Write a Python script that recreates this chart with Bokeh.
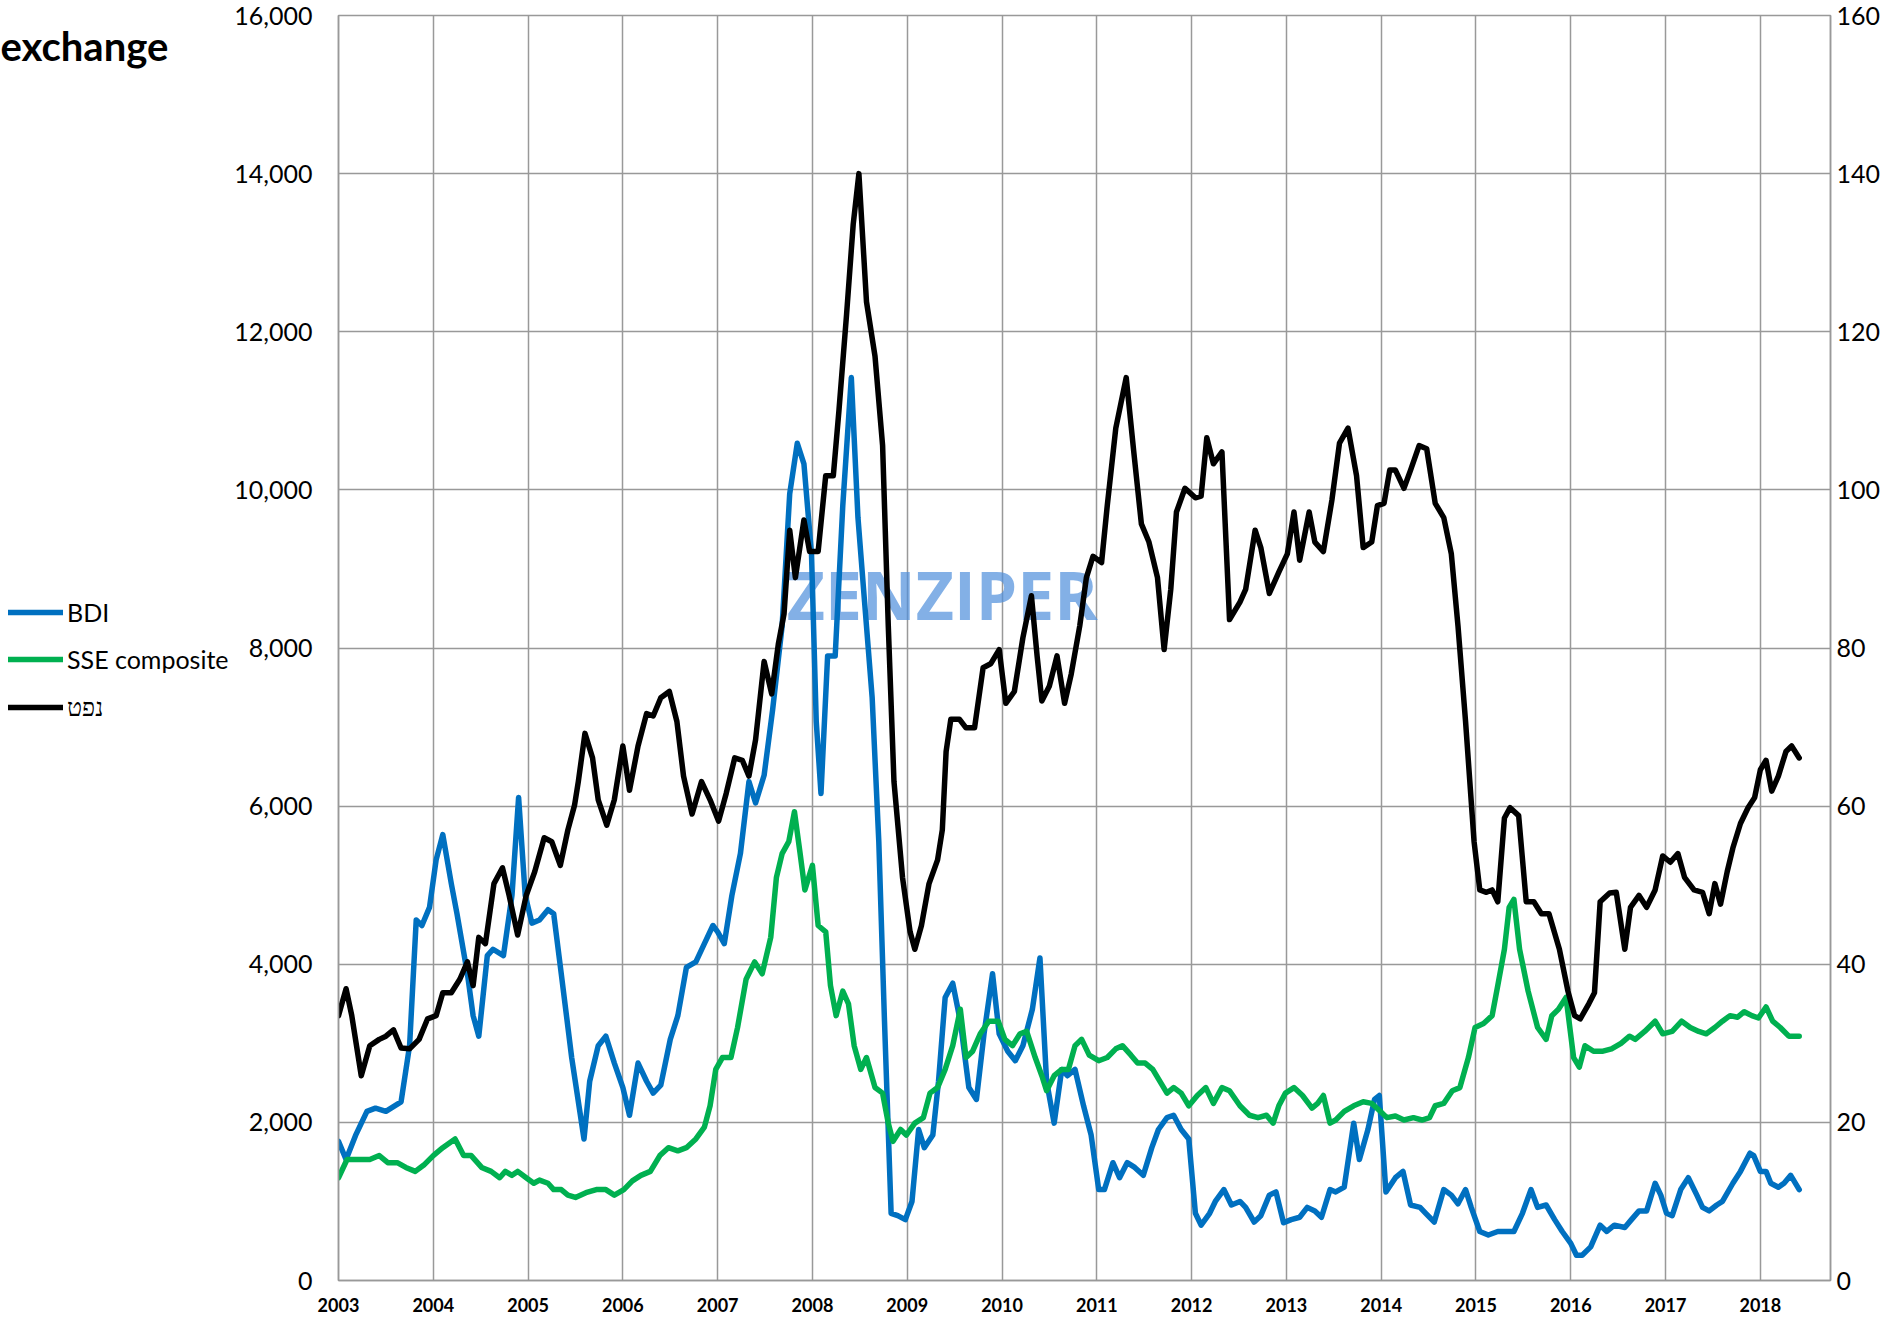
from bokeh.plotting import figure
from bokeh.layouts import row
from bokeh.models import (Range1d, LinearAxis, Legend, LegendItem, Label,
                          NumeralTickFormatter, FixedTicker)
from bokeh.embed import file_html
from bokeh.resources import INLINE

# ---- data (decimal year, value) ----
bdi = [(2003.00,1760),(2003.08,1530),(2003.18,1835),(2003.30,2140),(2003.39,2180),(2003.50,2140),(2003.66,2260),(2003.75,2970),(2003.82,4560),(2003.88,4490),(2003.96,4720),
       (2004.03,5320),(2004.10,5640),(2004.19,5020),(2004.25,4640),(2004.36,3880),(2004.42,3350),(2004.48,3090),(2004.57,4110),(2004.63,4190),(2004.74,4110),(2004.83,4870),(2004.90,6110),(2004.97,4870),
       (2005.04,4520),(2005.12,4560),(2005.21,4690),(2005.27,4640),(2005.35,3880),(2005.46,2820),(2005.59,1790),(2005.65,2520),(2005.74,2970),(2005.82,3090),(2005.91,2750),
       (2006.00,2440),(2006.07,2090),(2006.16,2750),(2006.25,2520),(2006.32,2370),(2006.40,2470),(2006.50,3050),(2006.58,3350),(2006.67,3960),(2006.77,4030),(2006.86,4260),(2006.95,4490),
       (2007.00,4410),(2007.07,4260),(2007.15,4870),(2007.24,5400),(2007.33,6310),(2007.40,6040),(2007.49,6390),(2007.58,7220),(2007.68,8280),(2007.76,9950),(2007.84,10590),(2007.91,10330),(2007.99,9190),
       (2008.04,7070),(2008.09,6160),(2008.16,7900),(2008.24,7900),(2008.32,9800),(2008.41,11420),(2008.48,9650),(2008.55,8580),(2008.63,7370),(2008.70,5550),(2008.76,3280),(2008.83,850),(2008.90,820),(2008.98,770),
       (2009.05,1000),(2009.12,1910),(2009.18,1680),(2009.27,1840),(2009.33,2520),(2009.40,3580),(2009.48,3760),(2009.56,3280),(2009.65,2440),(2009.73,2290),(2009.81,3120),(2009.90,3880),(2009.97,3120),
       (2010.06,2900),(2010.14,2780),(2010.22,2970),(2010.32,3430),(2010.40,4080),(2010.47,2520),(2010.55,1990),(2010.63,2670),(2010.69,2590),(2010.77,2670),(2010.86,2210),(2010.94,1840),
       (2011.02,1150),(2011.08,1150),(2011.17,1490),(2011.24,1300),(2011.32,1490),(2011.40,1430),(2011.49,1330),(2011.58,1680),(2011.65,1910),(2011.74,2060),(2011.81,2090),(2011.89,1910),(2011.97,1790),
       (2012.04,850),(2012.10,700),(2012.19,850),(2012.25,1000),(2012.34,1150),(2012.42,955),(2012.51,1000),(2012.57,925),(2012.66,740),(2012.73,820),(2012.82,1080),(2012.89,1120),(2012.97,730),
       (2013.05,770),(2013.14,800),(2013.22,925),(2013.30,880),(2013.37,800),(2013.46,1150),(2013.52,1120),(2013.61,1180),(2013.71,1990),(2013.77,1530),(2013.86,1910),(2013.93,2290),(2013.98,2340),
       (2014.05,1120),(2014.15,1300),(2014.23,1380),(2014.31,955),(2014.41,925),(2014.47,850),(2014.56,740),(2014.66,1150),(2014.74,1080),(2014.81,970),(2014.89,1150),(2014.95,925),
       (2015.04,620),(2015.13,575),(2015.23,620),(2015.32,620),(2015.40,620),(2015.49,850),(2015.58,1150),(2015.65,925),(2015.74,955),(2015.83,770),(2015.91,620),
       (2016.00,470),(2016.06,320),(2016.12,320),(2016.21,425),(2016.31,700),(2016.38,620),(2016.46,700),(2016.57,670),(2016.64,770),(2016.72,880),(2016.80,880),(2016.89,1230),(2016.95,1080),
       (2017.01,850),(2017.07,820),(2017.16,1150),(2017.24,1300),(2017.33,1080),(2017.39,925),(2017.46,880),(2017.54,955),(2017.60,1000),(2017.71,1230),(2017.79,1380),(2017.89,1610),(2017.93,1580),
       (2018.00,1380),(2018.06,1380),(2018.11,1230),(2018.19,1180),(2018.25,1230),(2018.32,1330),(2018.41,1150)]

sse = [(2003.00,1300),(2003.09,1530),(2003.24,1530),(2003.33,1530),(2003.43,1580),(2003.52,1490),(2003.62,1490),(2003.71,1430),(2003.81,1380),(2003.90,1460),
       (2004.00,1580),(2004.10,1680),(2004.23,1790),(2004.32,1580),(2004.40,1580),(2004.51,1430),(2004.61,1380),(2004.70,1300),(2004.76,1380),(2004.83,1330),(2004.89,1380),(2004.98,1300),
       (2005.06,1230),(2005.12,1270),(2005.21,1230),(2005.27,1150),(2005.35,1150),(2005.42,1080),(2005.50,1050),(2005.61,1110),(2005.72,1150),(2005.82,1150),(2005.91,1080),
       (2006.01,1150),(2006.10,1260),(2006.19,1330),(2006.29,1380),(2006.39,1580),(2006.48,1680),(2006.58,1640),(2006.67,1680),(2006.77,1790),(2006.86,1940),(2006.92,2210),(2006.98,2670),
       (2007.05,2820),(2007.14,2820),(2007.21,3200),(2007.30,3810),(2007.39,4030),(2007.47,3880),(2007.56,4340),(2007.62,5100),(2007.68,5400),(2007.75,5550),(2007.81,5930),(2007.87,5400),(2007.92,4940),
       (2008.00,5250),(2008.06,4490),(2008.14,4410),(2008.19,3730),(2008.25,3350),(2008.32,3660),(2008.38,3500),(2008.44,2970),(2008.51,2670),(2008.57,2820),(2008.66,2440),(2008.74,2370),(2008.80,1990),(2008.85,1760),(2008.93,1910),(2008.99,1840),
       (2009.08,1990),(2009.17,2060),(2009.24,2370),(2009.32,2440),(2009.40,2670),(2009.48,2970),(2009.56,3430),(2009.62,2820),(2009.69,2900),(2009.77,3120),(2009.86,3280),(2009.96,3280),
       (2010.03,3050),(2010.11,2970),(2010.19,3120),(2010.26,3150),(2010.35,2820),(2010.42,2590),(2010.47,2400),(2010.55,2590),(2010.63,2670),(2010.70,2670),(2010.77,2970),(2010.84,3050),(2010.92,2850),
       (2011.02,2780),(2011.11,2820),(2011.20,2930),(2011.27,2970),(2011.36,2850),(2011.43,2750),(2011.51,2750),(2011.59,2670),(2011.65,2550),(2011.74,2370),(2011.81,2440),(2011.89,2370),(2011.97,2210),
       (2012.06,2340),(2012.15,2440),(2012.23,2240),(2012.32,2440),(2012.40,2400),(2012.51,2210),(2012.61,2090),(2012.70,2060),(2012.79,2090),(2012.86,1990),(2012.92,2210),(2012.99,2370),
       (2013.08,2440),(2013.17,2340),(2013.27,2180),(2013.33,2240),(2013.39,2340),(2013.46,1990),(2013.52,2030),(2013.61,2140),(2013.71,2210),(2013.81,2260),(2013.90,2240),(2013.99,2140),
       (2014.06,2060),(2014.15,2080),(2014.24,2030),(2014.34,2060),(2014.43,2030),(2014.51,2060),(2014.57,2210),(2014.66,2240),(2014.75,2400),(2014.83,2440),(2014.92,2820),(2014.99,3200),
       (2015.08,3250),(2015.17,3350),(2015.23,3730),(2015.30,4190),(2015.35,4720),(2015.40,4820),(2015.46,4190),(2015.55,3660),(2015.65,3200),(2015.74,3050),(2015.80,3350),(2015.87,3430),(2015.95,3580),
       (2016.03,2820),(2016.09,2700),(2016.15,2970),(2016.24,2900),(2016.34,2900),(2016.43,2930),(2016.53,3000),(2016.62,3090),(2016.68,3050),(2016.78,3150),(2016.89,3280),(2016.97,3120),
       (2017.07,3150),(2017.17,3280),(2017.26,3200),(2017.35,3150),(2017.43,3120),(2017.52,3200),(2017.60,3280),(2017.68,3350),(2017.76,3330),(2017.83,3400),(2017.91,3350),(2017.98,3320),
       (2018.06,3460),(2018.13,3280),(2018.21,3200),(2018.30,3090),(2018.41,3090)]

oil = [(2003.00,33.5),(2003.08,36.9),(2003.14,33.5),(2003.24,25.9),(2003.33,29.7),(2003.43,30.5),(2003.50,30.9),(2003.58,31.7),(2003.66,29.4),(2003.75,29.3),(2003.85,30.5),(2003.94,33.1),
       (2004.03,33.5),(2004.10,36.4),(2004.19,36.4),(2004.28,38.1),(2004.36,40.3),(2004.42,37.3),(2004.48,43.4),(2004.55,42.6),(2004.64,50.2),(2004.73,52.2),(2004.80,48.7),(2004.89,43.7),(2004.98,48.7),
       (2005.07,51.7),(2005.17,56.0),(2005.25,55.5),(2005.34,52.5),(2005.42,57.0),(2005.49,60.1),(2005.53,63.1),(2005.60,69.2),(2005.68,66.1),(2005.74,60.8),(2005.83,57.6),(2005.91,60.8),
       (2006.00,67.6),(2006.07,62.0),(2006.16,67.6),(2006.25,71.7),(2006.32,71.4),(2006.40,73.7),(2006.49,74.5),(2006.57,70.7),(2006.64,63.8),(2006.73,59.0),(2006.83,63.1),(2006.92,60.8),
       (2007.01,58.1),(2007.09,61.6),(2007.18,66.1),(2007.26,65.8),(2007.33,63.8),(2007.40,68.4),(2007.49,78.3),(2007.57,74.2),(2007.64,80.5),(2007.70,84.3),(2007.76,94.9),(2007.82,88.9),(2007.91,96.2),(2007.97,92.2),
       (2008.06,92.2),(2008.14,101.8),(2008.22,101.8),(2008.28,110.1),(2008.36,122.2),(2008.43,133.6),(2008.49,140.0),(2008.57,123.8),(2008.66,116.9),(2008.74,105.6),(2008.80,82.8),(2008.86,63.1),(2008.95,51.0),
       (2009.03,44.1),(2009.08,41.9),(2009.15,44.9),(2009.23,50.2),(2009.32,53.2),(2009.37,57.0),(2009.41,66.9),(2009.46,71.0),(2009.55,71.0),(2009.62,69.9),(2009.71,69.9),(2009.80,77.5),(2009.88,78.0),(2009.97,79.8),
       (2010.04,73.0),(2010.13,74.5),(2010.22,81.3),(2010.31,86.6),(2010.37,79.0),(2010.42,73.3),(2010.50,75.2),(2010.58,79.0),(2010.66,73.0),(2010.73,76.7),(2010.82,82.8),(2010.89,88.9),(2010.96,91.6),
       (2011.05,90.8),(2011.11,98.0),(2011.20,107.8),(2011.31,114.2),(2011.39,104.8),(2011.47,95.7),(2011.55,93.4),(2011.64,88.9),(2011.71,79.8),(2011.78,87.4),(2011.84,97.2),(2011.93,100.2),
       (2012.04,99.0),(2012.10,99.2),(2012.16,106.6),(2012.23,103.3),(2012.32,104.8),(2012.40,83.6),(2012.51,85.8),(2012.57,87.4),(2012.67,94.9),(2012.73,92.7),(2012.82,86.9),(2012.92,89.6),
       (2013.01,91.9),(2013.08,97.2),(2013.14,91.1),(2013.24,97.2),(2013.30,93.4),(2013.39,92.2),(2013.48,98.7),(2013.56,105.9),(2013.65,107.8),(2013.74,101.8),(2013.81,92.7),(2013.90,93.4),(2013.96,98.0),
       (2014.03,98.3),(2014.09,102.5),(2014.15,102.5),(2014.24,100.2),(2014.31,102.5),(2014.40,105.6),(2014.48,105.2),(2014.57,98.3),(2014.66,96.5),(2014.74,91.9),(2014.81,82.8),(2014.89,70.7),(2014.98,55.5),
       (2015.04,49.4),(2015.11,49.1),(2015.17,49.4),(2015.23,47.9),(2015.30,58.5),(2015.36,59.8),(2015.45,58.8),(2015.53,47.9),(2015.61,47.9),(2015.69,46.4),(2015.77,46.4),(2015.88,41.9),(2015.97,36.6),
       (2016.04,33.5),(2016.10,33.1),(2016.19,35.0),(2016.25,36.4),(2016.31,47.9),(2016.41,49.0),(2016.48,49.1),(2016.57,41.9),(2016.63,47.2),(2016.72,48.7),(2016.80,47.2),(2016.89,49.4),(2016.97,53.7),
       (2017.05,52.9),(2017.13,54.0),(2017.20,51.0),(2017.30,49.4),(2017.39,49.1),(2017.46,46.4),(2017.52,50.2),(2017.58,47.6),(2017.65,51.7),(2017.71,54.7),(2017.79,57.8),(2017.87,59.8),(2017.94,61.1),
       (2018.00,64.6),(2018.06,65.8),(2018.12,61.9),(2018.19,63.8),(2018.27,66.9),(2018.33,67.6),(2018.41,66.1)]

year_ticks = list(range(2003, 2019))
left_ticks = list(range(0, 16001, 2000))
right_ticks = list(range(0, 161, 20))
series_names = ["BDI", "SSE composite", "נפט"]
series_colors = ["#0070C0", "#00B050", "#000000"]
title_text = "exchange"

GRID = "#999999"
FONT = "Lato"
LINE_W = 5.5
LEG_W = 230          # width of the left strip holding title + legend
TOTAL_W, TOTAL_H = 1883, 1319

# ---------------- main chart ----------------
p = figure(width=TOTAL_W - LEG_W, height=TOTAL_H, output_backend="svg", toolbar_location=None,
           x_range=Range1d(2003, 2018.74), y_range=Range1d(0, 16000),
           min_border_left=338 - LEG_W, min_border_right=52, min_border_top=15, min_border_bottom=39)
p.extra_y_ranges = {"oil": Range1d(0, 160)}
p.background_fill_color = "white"
p.border_fill_color = "white"
p.outline_line_color = GRID
p.outline_line_width = 1.5

xa = p.xaxis[0]
xa.ticker = FixedTicker(ticks=year_ticks)
xa.major_label_text_font = FONT
xa.major_label_text_font_style = "bold"
xa.major_label_text_font_size = "18px"
xa.major_label_text_color = "#000000"
xa.major_label_standoff = 17
ya = p.yaxis[0]
ya.ticker = FixedTicker(ticks=left_ticks)
ya.formatter = NumeralTickFormatter(format="0,0")
ya.major_label_standoff = 26
ya.major_label_text_font = FONT
ya.major_label_text_font_size = "25px"
ya.major_label_text_color = "#000000"
ra = LinearAxis(y_range_name="oil", ticker=FixedTicker(ticks=right_ticks))
ra.major_label_standoff = 6
ra.major_label_text_font = FONT
ra.major_label_text_font_size = "25px"
ra.major_label_text_color = "#000000"
p.add_layout(ra, "right")
for ax in (xa, ya, ra):
    ax.major_tick_out = 0
    ax.major_tick_in = 0
    ax.minor_tick_out = 0
    ax.minor_tick_in = 0
    ax.axis_line_color = GRID
    ax.axis_line_width = 1.5

p.xgrid.ticker = FixedTicker(ticks=year_ticks)
p.ygrid.ticker = FixedTicker(ticks=left_ticks)
for g in (p.xgrid[0], p.ygrid[0]):
    g.grid_line_color = GRID
    g.grid_line_width = 1.5

wm = Label(x=2009.37, y=8688, text="ZENZIPER", text_align="center", text_baseline="alphabetic",
           text_font="Open Sans", text_font_style="bold", text_font_size="66px",
           text_color="#4f8fdc", text_alpha=0.7, level="underlay")
p.add_layout(wm)

for data, col, kw in ((bdi, series_colors[0], {}), (sse, series_colors[1], {}),
                      (oil, series_colors[2], {"y_range_name": "oil"})):
    xs = [d[0] for d in data]
    ys = [d[1] for d in data]
    p.line(xs, ys, line_color=col, line_width=LINE_W, line_join="round", line_cap="round", **kw)

# ---------------- left strip: title + legend ----------------
lf = figure(width=LEG_W, height=TOTAL_H, output_backend="svg", toolbar_location=None,
            x_range=Range1d(0, LEG_W), y_range=Range1d(TOTAL_H, 0),
            x_axis_type=None, y_axis_type=None,
            min_border_left=0, min_border_right=0, min_border_top=0, min_border_bottom=0)
lf.outline_line_color = None
lf.background_fill_color = "white"
lf.border_fill_color = "white"
lf.grid.visible = False

# legend key stubs (a single NaN point: nothing is drawn in the strip itself)
nan = float("nan")
key_renderers = [lf.line([nan], [nan], line_color=c, line_width=LINE_W, line_cap="round")
                 for c in series_colors]
legend = Legend(items=[LegendItem(label=n, renderers=[r]) for n, r in zip(series_names, key_renderers)],
                location=(8, 558), orientation="vertical")
legend.border_line_color = None
legend.background_fill_alpha = 0
legend.padding = 0
legend.margin = 0
legend.glyph_width = 55
legend.glyph_height = 30
legend.label_height = 30
legend.spacing = 17
legend.label_standoff = 4
legend.label_text_font = FONT
legend.label_text_font_size = "25px"
legend.label_text_color = "#000000"
lf.add_layout(legend)

title = Label(x=0, y=32, text=title_text, text_align="left", text_baseline="alphabetic",
              text_font=FONT, text_font_style="bold", text_font_size="40px", text_color="#000000")
lf.add_layout(title)

layout = row(lf, p, spacing=0)
open("out.html", "w").write(file_html(layout, INLINE))
